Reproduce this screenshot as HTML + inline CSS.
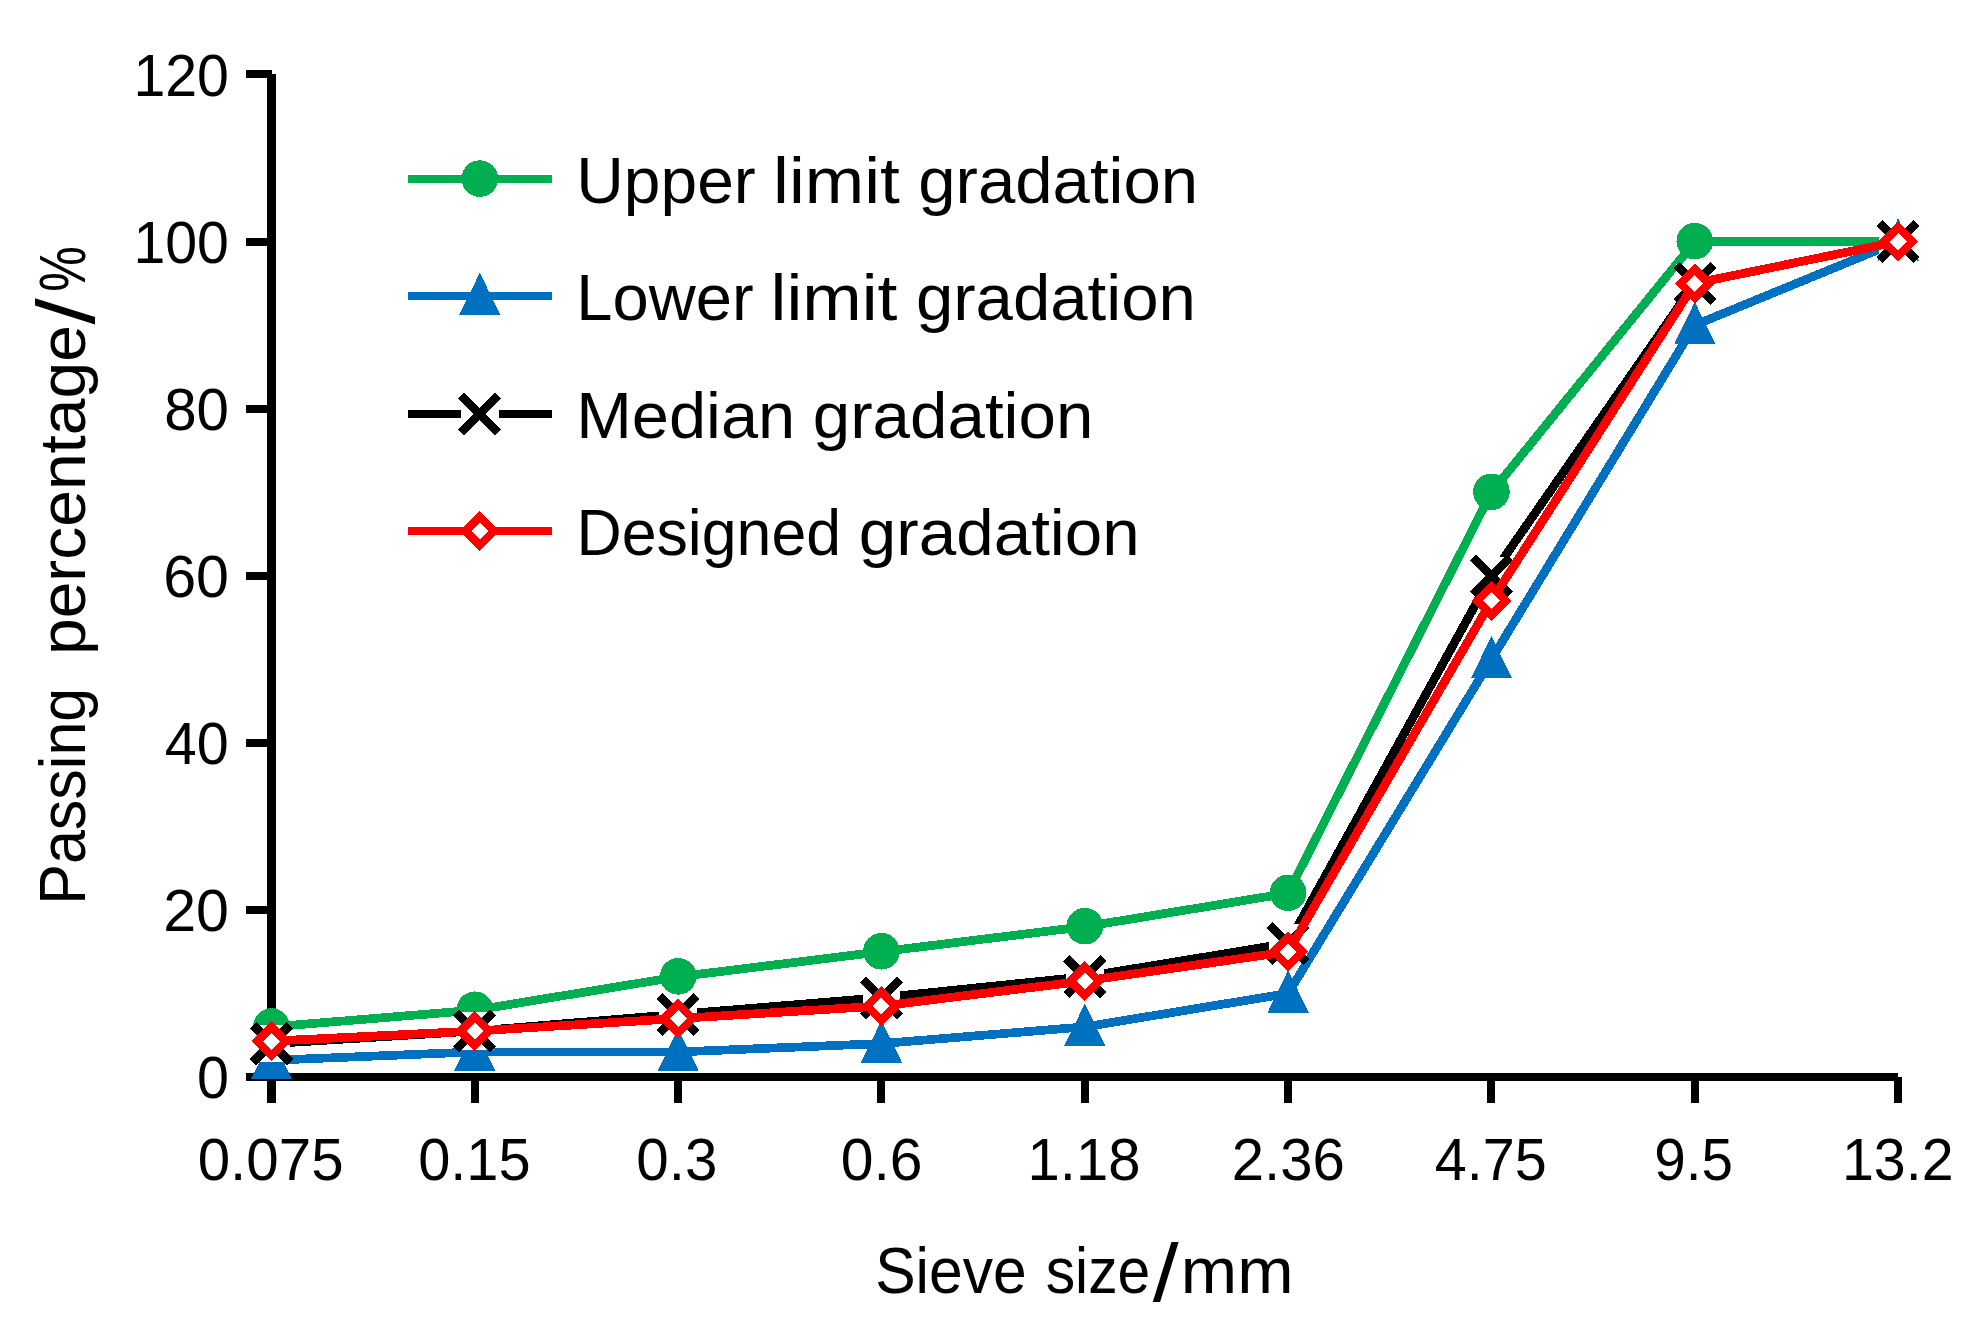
<!DOCTYPE html>
<html lang="en"><head><meta charset="utf-8"><title>Gradation curves</title>
<style>
html,body{margin:0;padding:0;background:#fff;}
body{width:1973px;height:1333px;overflow:hidden;}
svg{display:block;}
text{font-family:"Liberation Sans",sans-serif;fill:#000;}
</style></head><body>
<svg width="1973" height="1333" viewBox="0 0 1973 1333">
<rect width="1973" height="1333" fill="#fff"/>
<g fill="#000" shape-rendering="crispEdges">
<rect x="267" y="74" width="9" height="1007"/>
<rect x="246" y="1073" width="1652" height="8"/>
<rect x="246" y="70" width="26" height="8"/>
<rect x="246" y="238" width="26" height="8"/>
<rect x="246" y="405" width="26" height="8"/>
<rect x="246" y="572" width="26" height="8"/>
<rect x="246" y="739" width="26" height="8"/>
<rect x="246" y="906" width="26" height="8"/>
<rect x="267" y="1077" width="9" height="26"/>
<rect x="471" y="1077" width="8" height="26"/>
<rect x="674" y="1077" width="8" height="26"/>
<rect x="877" y="1077" width="8" height="26"/>
<rect x="1081" y="1077" width="8" height="26"/>
<rect x="1284" y="1077" width="8" height="26"/>
<rect x="1487" y="1077" width="8" height="26"/>
<rect x="1691" y="1077" width="8" height="26"/>
<rect x="1894" y="1077" width="8" height="26"/>
</g>
<g shape-rendering="crispEdges">
<g><polyline points="271.50,1026.88 474.82,1010.17 678.15,976.75 881.47,951.69 1084.80,926.63 1288.12,893.21 1491.45,492.22 1694.77,241.60 1898.10,241.60" fill="none" stroke="#00B050" stroke-width="8.7" stroke-linejoin="round"/><circle cx="271.50" cy="1026.48" r="18.3" fill="#00B050"/><circle cx="474.82" cy="1009.77" r="18.3" fill="#00B050"/><circle cx="678.15" cy="976.35" r="18.3" fill="#00B050"/><circle cx="881.47" cy="951.29" r="18.3" fill="#00B050"/><circle cx="1084.80" cy="926.23" r="18.3" fill="#00B050"/><circle cx="1288.12" cy="892.81" r="18.3" fill="#00B050"/><circle cx="1491.45" cy="491.82" r="18.3" fill="#00B050"/><circle cx="1694.77" cy="241.20" r="18.3" fill="#00B050"/><circle cx="1898.10" cy="241.20" r="18.3" fill="#00B050"/></g>
<g><polyline points="271.50,1060.29 474.82,1051.94 678.15,1051.94 881.47,1043.58 1084.80,1026.88 1288.12,993.46 1491.45,659.30 1694.77,325.14 1898.10,241.60" fill="none" stroke="#0070C0" stroke-width="8.7" stroke-linejoin="round"/><path d="M271.50 1036.99L292.10 1079.39L250.90 1079.39Z" fill="#0070C0"/><path d="M474.82 1028.64L495.43 1071.04L454.22 1071.04Z" fill="#0070C0"/><path d="M678.15 1028.64L698.75 1071.04L657.55 1071.04Z" fill="#0070C0"/><path d="M881.47 1020.28L902.07 1062.68L860.87 1062.68Z" fill="#0070C0"/><path d="M1084.80 1003.58L1105.40 1045.98L1064.20 1045.98Z" fill="#0070C0"/><path d="M1288.12 970.16L1308.72 1012.56L1267.53 1012.56Z" fill="#0070C0"/><path d="M1491.45 636.00L1512.05 678.40L1470.85 678.40Z" fill="#0070C0"/><path d="M1694.77 301.84L1715.37 344.24L1674.17 344.24Z" fill="#0070C0"/><path d="M1898.10 218.30L1918.70 260.70L1877.50 260.70Z" fill="#0070C0"/></g>
<g><polyline points="271.50,1043.58 474.82,1031.05 678.15,1014.35 881.47,997.64 1084.80,976.75 1288.12,943.34 1491.45,575.76 1694.77,283.37 1898.10,241.60" fill="none" stroke="#000000" stroke-width="8.7" stroke-linejoin="round"/><rect x="252.60" y="1024.68" width="37.8" height="37.8" fill="#fff"/><path d="M253.00 1025.08L290.00 1062.08M290.00 1025.08L253.00 1062.08" stroke="#000000" stroke-width="8.6" fill="none"/><rect x="455.93" y="1012.15" width="37.8" height="37.8" fill="#fff"/><path d="M456.32 1012.55L493.32 1049.55M493.32 1012.55L456.32 1049.55" stroke="#000000" stroke-width="8.6" fill="none"/><rect x="659.25" y="995.45" width="37.8" height="37.8" fill="#fff"/><path d="M659.65 995.85L696.65 1032.85M696.65 995.85L659.65 1032.85" stroke="#000000" stroke-width="8.6" fill="none"/><rect x="862.57" y="978.74" width="37.8" height="37.8" fill="#fff"/><path d="M862.97 979.14L899.97 1016.14M899.97 979.14L862.97 1016.14" stroke="#000000" stroke-width="8.6" fill="none"/><rect x="1065.90" y="957.85" width="37.8" height="37.8" fill="#fff"/><path d="M1066.30 958.25L1103.30 995.25M1103.30 958.25L1066.30 995.25" stroke="#000000" stroke-width="8.6" fill="none"/><rect x="1269.22" y="924.44" width="37.8" height="37.8" fill="#fff"/><path d="M1269.62 924.84L1306.62 961.84M1306.62 924.84L1269.62 961.84" stroke="#000000" stroke-width="8.6" fill="none"/><rect x="1472.55" y="556.86" width="37.8" height="37.8" fill="#fff"/><path d="M1472.95 557.26L1509.95 594.26M1509.95 557.26L1472.95 594.26" stroke="#000000" stroke-width="8.6" fill="none"/><rect x="1675.87" y="264.47" width="37.8" height="37.8" fill="#fff"/><path d="M1676.27 264.87L1713.27 301.87M1713.27 264.87L1676.27 301.87" stroke="#000000" stroke-width="8.6" fill="none"/><rect x="1879.20" y="222.70" width="37.8" height="37.8" fill="#fff"/><path d="M1879.60 223.10L1916.60 260.10M1916.60 223.10L1879.60 260.10" stroke="#000000" stroke-width="8.6" fill="none"/></g>
<g><polyline points="271.50,1041.08 474.82,1031.05 678.15,1018.52 881.47,1005.99 1084.80,980.93 1288.12,951.69 1491.45,600.82 1694.77,283.37 1898.10,241.60" fill="none" stroke="#FF0000" stroke-width="8.7" stroke-linejoin="round"/><path d="M271.50 1026.78L285.80 1041.08L271.50 1055.38L257.20 1041.08Z" fill="#fff" stroke="#FF0000" stroke-width="8.2" stroke-linejoin="miter"/><path d="M474.82 1016.75L489.12 1031.05L474.82 1045.35L460.52 1031.05Z" fill="#fff" stroke="#FF0000" stroke-width="8.2" stroke-linejoin="miter"/><path d="M678.15 1004.22L692.45 1018.52L678.15 1032.82L663.85 1018.52Z" fill="#fff" stroke="#FF0000" stroke-width="8.2" stroke-linejoin="miter"/><path d="M881.47 991.69L895.77 1005.99L881.47 1020.29L867.17 1005.99Z" fill="#fff" stroke="#FF0000" stroke-width="8.2" stroke-linejoin="miter"/><path d="M1084.80 966.63L1099.10 980.93L1084.80 995.23L1070.50 980.93Z" fill="#fff" stroke="#FF0000" stroke-width="8.2" stroke-linejoin="miter"/><path d="M1288.12 937.39L1302.42 951.69L1288.12 965.99L1273.83 951.69Z" fill="#fff" stroke="#FF0000" stroke-width="8.2" stroke-linejoin="miter"/><path d="M1491.45 586.52L1505.75 600.82L1491.45 615.12L1477.15 600.82Z" fill="#fff" stroke="#FF0000" stroke-width="8.2" stroke-linejoin="miter"/><path d="M1694.77 269.07L1709.07 283.37L1694.77 297.67L1680.47 283.37Z" fill="#fff" stroke="#FF0000" stroke-width="8.2" stroke-linejoin="miter"/><path d="M1898.10 227.30L1912.40 241.60L1898.10 255.90L1883.80 241.60Z" fill="#fff" stroke="#FF0000" stroke-width="8.2" stroke-linejoin="miter"/></g>
<path d="M407.9 179.0H552.1" stroke="#00B050" stroke-width="8.0"/><circle cx="479.80" cy="178.60" r="18.3" fill="#00B050"/>
<path d="M407.9 296.0H552.1" stroke="#0070C0" stroke-width="8.0"/><path d="M479.80 272.70L500.40 315.10L459.20 315.10Z" fill="#0070C0"/>
<path d="M407.9 414.0H552.1" stroke="#000000" stroke-width="8.0"/><rect x="460.90" y="395.10" width="37.8" height="37.8" fill="#fff"/><path d="M461.30 395.50L498.30 432.50M498.30 395.50L461.30 432.50" stroke="#000000" stroke-width="8.6" fill="none"/>
<path d="M407.9 531.0H552.1" stroke="#FF0000" stroke-width="8.0"/><path d="M479.80 516.70L494.10 531.00L479.80 545.30L465.50 531.00Z" fill="#fff" stroke="#FF0000" stroke-width="8.2" stroke-linejoin="miter"/>
</g>
<g><text font-size="60.0"><tspan x="133.42" y="95.90" textLength="95.50" lengthAdjust="spacingAndGlyphs">120</tspan></text>
<text font-size="60.0"><tspan x="133.42" y="262.95" textLength="95.50" lengthAdjust="spacingAndGlyphs">100</tspan></text>
<text font-size="60.0"><tspan x="164.18" y="430.00" textLength="64.77" lengthAdjust="spacingAndGlyphs">80</tspan></text>
<text font-size="60.0"><tspan x="163.23" y="597.05" textLength="65.74" lengthAdjust="spacingAndGlyphs">60</tspan></text>
<text font-size="60.0"><tspan x="164.80" y="764.10" textLength="63.93" lengthAdjust="spacingAndGlyphs">40</tspan></text>
<text font-size="60.0"><tspan x="163.23" y="931.15" textLength="65.74" lengthAdjust="spacingAndGlyphs">20</tspan></text>
<text font-size="60.0"><tspan x="196.95" y="1098.20" textLength="31.98" lengthAdjust="spacingAndGlyphs">0</tspan></text>
<text font-size="60.0"><tspan x="197.68" y="1180.40" textLength="145.94" lengthAdjust="spacingAndGlyphs">0.075</tspan></text>
<text font-size="60.0"><tspan x="418.20" y="1180.40" textLength="112.40" lengthAdjust="spacingAndGlyphs">0.15</tspan></text>
<text font-size="60.0"><tspan x="636.28" y="1180.40" textLength="81.09" lengthAdjust="spacingAndGlyphs">0.3</tspan></text>
<text font-size="60.0"><tspan x="840.76" y="1180.40" textLength="81.82" lengthAdjust="spacingAndGlyphs">0.6</tspan></text>
<text font-size="60.0"><tspan x="1027.58" y="1180.40" textLength="112.88" lengthAdjust="spacingAndGlyphs">1.18</tspan></text>
<text font-size="60.0"><tspan x="1231.78" y="1180.40" textLength="113.08" lengthAdjust="spacingAndGlyphs">2.36</tspan></text>
<text font-size="60.0"><tspan x="1434.85" y="1180.40" textLength="111.98" lengthAdjust="spacingAndGlyphs">4.75</tspan></text>
<text font-size="60.0"><tspan x="1654.35" y="1180.40" textLength="78.70" lengthAdjust="spacingAndGlyphs">9.5</tspan></text>
<text font-size="60.0"><tspan x="1841.91" y="1180.40" textLength="111.66" lengthAdjust="spacingAndGlyphs">13.2</tspan></text>
<text font-size="65.0"><tspan x="576.28" y="202.80" textLength="179.54" lengthAdjust="spacingAndGlyphs">Upper</tspan> <tspan x="773.14" y="202.80" textLength="126.82" lengthAdjust="spacingAndGlyphs">limit</tspan> <tspan x="918.20" y="202.80" textLength="279.97" lengthAdjust="spacingAndGlyphs">gradation</tspan></text>
<text font-size="65.0"><tspan x="576.31" y="319.80" textLength="177.30" lengthAdjust="spacingAndGlyphs">Lower</tspan> <tspan x="770.54" y="319.80" textLength="126.82" lengthAdjust="spacingAndGlyphs">limit</tspan> <tspan x="915.90" y="319.80" textLength="279.97" lengthAdjust="spacingAndGlyphs">gradation</tspan></text>
<text font-size="65.0"><tspan x="576.18" y="437.70" textLength="219.07" lengthAdjust="spacingAndGlyphs">Median</tspan> <tspan x="812.80" y="437.70" textLength="280.58" lengthAdjust="spacingAndGlyphs">gradation</tspan></text>
<text font-size="65.0"><tspan x="576.51" y="554.70" textLength="264.61" lengthAdjust="spacingAndGlyphs">Designed</tspan> <tspan x="858.89" y="554.70" textLength="280.89" lengthAdjust="spacingAndGlyphs">gradation</tspan></text>
<text font-size="65.0"><tspan x="875.21" y="1292.80" textLength="151.45" lengthAdjust="spacingAndGlyphs">Sieve</tspan> <tspan x="1045.68" y="1292.80" textLength="104.60" lengthAdjust="spacingAndGlyphs">size</tspan><tspan x="1152.70" y="1301.32" font-size="81.87" textLength="25.88" lengthAdjust="spacingAndGlyphs">/</tspan><tspan x="1180.77" y="1292.80" textLength="112.73" lengthAdjust="spacingAndGlyphs">mm</tspan></text>
<text transform="translate(84.90 0) rotate(-90)" font-size="65.5"><tspan x="-904.77" y="0.00" textLength="216.99" lengthAdjust="spacingAndGlyphs">Passing</tspan>  <tspan x="-655.02" y="0.00" textLength="329.89" lengthAdjust="spacingAndGlyphs">percentage</tspan><tspan x="-324.60" y="9.02" font-size="81.87" textLength="26.18" lengthAdjust="spacingAndGlyphs">/</tspan><tspan x="-291.80" y="0.00" textLength="45.52" lengthAdjust="spacingAndGlyphs">%</tspan></text></g>
</svg></body></html>
